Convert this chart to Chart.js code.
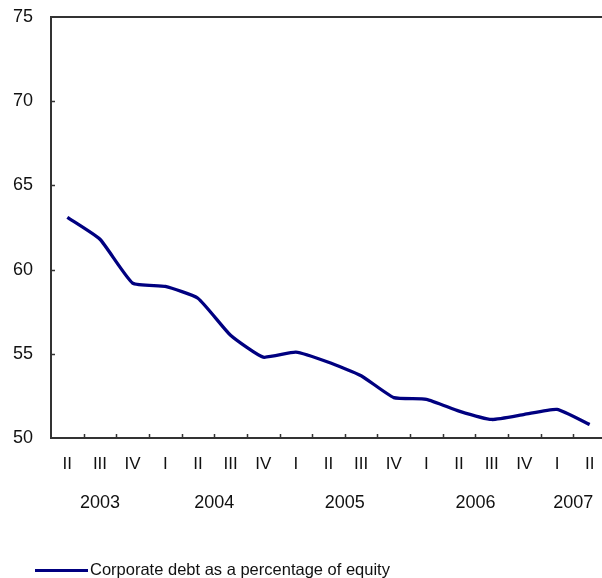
<!DOCTYPE html>
<html>
<head>
<meta charset="utf-8">
<script src="https://cdn.jsdelivr.net/npm/chart.js@4"></script>
<style>
  body { margin: 0; background: #fff; }
  #wrap { width: 602px; height: 578px; overflow: hidden; }
</style>
</head>
<body>
<div id="wrap"><canvas id="chart" width="610" height="578"></canvas></div>
<script>
var quarters = ['II', 'III', 'IV', 'I', 'II', 'III', 'IV', 'I', 'II', 'III', 'IV', 'I', 'II', 'III', 'IV', 'I', 'II'];
var quarterYears = ['2003', '2003', '2003', '2004', '2004', '2004', '2004', '2005', '2005', '2005', '2005', '2006', '2006', '2006', '2006', '2007', '2007'];
var debtToEquity = [63.1, 61.8, 59.2, 59.0, 58.3, 56.1, 54.8, 55.1, 54.5, 53.7, 52.4, 52.3, 51.6, 51.1, 51.4, 51.7, 50.8];
var yTicks = [50, 55, 60, 65, 70, 75];
var seriesLabel = 'Corporate debt as a percentage of equity';

var fontFamily = '"Liberation Sans", Arial, sans-serif';
var axisColor = '#333333';
var textColor = '#111111';

// draws inward tick marks, the top frame line, the year row and the legend
var extras = {
  id: 'extras',
  afterDraw: function(chart) {
    var ctx = chart.ctx;
    var x = chart.scales.x;
    var y = chart.scales.y;
    var area = chart.chartArea;
    ctx.save();
    ctx.strokeStyle = axisColor;
    ctx.lineWidth = 2;
    ctx.beginPath();
    ctx.moveTo(area.left - 1, area.top);
    ctx.lineTo(area.right, area.top);
    ctx.stroke();

    ctx.lineWidth = 1.5;
    ctx.beginPath();
    for (var i = 1; i < quarters.length; i++) {
      var px = Math.round((x.getPixelForValue(i - 1) + x.getPixelForValue(i)) / 2) + 0.5;
      ctx.moveTo(px, area.bottom);
      ctx.lineTo(px, area.bottom - 4);
    }
    for (var j = 1; j < yTicks.length - 1; j++) {
      var py = Math.round(y.getPixelForValue(yTicks[j])) + 0.5;
      ctx.moveTo(area.left, py);
      ctx.lineTo(area.left + 4, py);
    }
    ctx.stroke();

    // year labels centred under their quarters
    ctx.fillStyle = textColor;
    ctx.font = '18px ' + fontFamily;
    ctx.textAlign = 'center';
    ctx.textBaseline = 'middle';
    var groups = {};
    var order = [];
    quarterYears.forEach(function(yr, k) {
      if (!groups[yr]) { groups[yr] = []; order.push(yr); }
      groups[yr].push(x.getPixelForValue(k));
    });
    order.forEach(function(yr) {
      var g = groups[yr];
      var cx = g.reduce(function(a, b) { return a + b; }, 0) / g.length;
      ctx.fillText(yr, cx, area.bottom + 65);
    });

    // legend
    var ds = chart.data.datasets[0];
    ctx.strokeStyle = ds.borderColor;
    ctx.lineWidth = 3;
    ctx.beginPath();
    ctx.moveTo(35, 570.5);
    ctx.lineTo(88, 570.5);
    ctx.stroke();
    ctx.textAlign = 'left';
    ctx.font = '16.5px ' + fontFamily;
    ctx.fillText(ds.label, 90, 570);
    ctx.restore();
  }
};

new Chart(document.getElementById('chart'), {
  type: 'line',
  data: {
    labels: quarters,
    datasets: [{
      label: seriesLabel,
      data: debtToEquity,
      borderColor: '#000080',
      backgroundColor: '#000080',
      borderWidth: 3.3,
      pointRadius: 0,
      tension: 0.15,
      fill: false
    }]
  },
  options: {
    responsive: false,
    animation: false,
    layout: { padding: { top: 17, right: 4, left: 0, bottom: 0 } },
    plugins: {
      legend: { display: false },
      tooltip: { enabled: false }
    },
    scales: {
      x: {
        offset: true,
        grid: { display: false, drawTicks: false },
        border: { display: true, color: axisColor, width: 2 },
        ticks: {
          color: textColor,
          padding: 16,
          maxRotation: 0,
          autoSkip: false,
          font: { family: fontFamily, size: 17 }
        },
        afterFit: function(scale) {
          scale.height = 140;
          scale.paddingLeft = 0;
          scale.paddingRight = 0;
        }
      },
      y: {
        min: 50,
        max: 75,
        grid: { display: false, drawTicks: false },
        border: { display: true, color: axisColor, width: 2 },
        ticks: {
          stepSize: 5,
          color: textColor,
          padding: 18,
          font: { family: fontFamily, size: 18 }
        },
        afterFit: function(scale) {
          scale.width = 51;
          scale.paddingTop = 0;
          scale.paddingBottom = 0;
        }
      }
    }
  },
  plugins: [extras]
});
</script>
</body>
</html>
